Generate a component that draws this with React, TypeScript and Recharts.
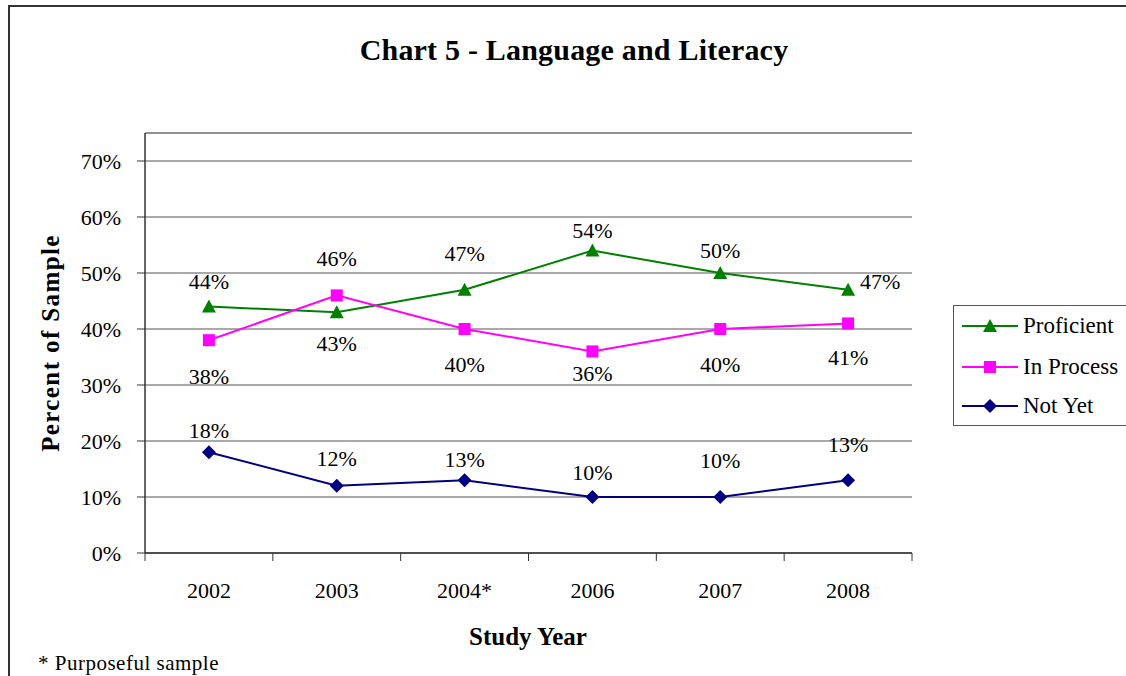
import React from "react";
import {
  LineChart,
  Line,
  XAxis,
  YAxis,
  CartesianGrid,
  ReferenceLine,
  LabelList,
} from "recharts";

const years = ["2002", "2003", "2004*", "2006", "2007", "2008"];
const proficient = [0.44, 0.43, 0.47, 0.54, 0.5, 0.47];
const inProcess = [0.38, 0.46, 0.4, 0.36, 0.4, 0.41];
const notYet = [0.18, 0.12, 0.13, 0.1, 0.1, 0.13];
const yTicks = [0, 0.1, 0.2, 0.3, 0.4, 0.5, 0.6, 0.7];
const yMax = 0.75;

const data = years.map((year, i) => ({
  year,
  proficient: proficient[i],
  inProcess: inProcess[i],
  notYet: notYet[i],
}));

const FONT = '"Liberation Serif", "Times New Roman", serif';
const GREEN = "#008000";
const MAGENTA = "#ff00ff";
const NAVY = "#000080";

const CHART_W = 1126;
const CHART_H = 676;
const PLOT_LEFT = 145;
const PLOT_RIGHT = 912;
const PLOT_TOP = 133;
const PLOT_BOTTOM = 553;
const Y_AXIS_W = 60;
const X_AXIS_H = 50;
const HALF_BAND = (PLOT_RIGHT - PLOT_LEFT) / years.length / 2;

// where Excel put each data label, relative to its point
const labelOffsets: Record<string, [number, number][]> = {
  proficient: [[0, -25], [0, 31], [0, -36], [0, -20], [0, -23], [32, -8]],
  inProcess: [[0, 36], [0, -37], [0, 35], [0, 22], [0, 35], [0, 34]],
  notYet: [[0, -22], [0, -27], [0, -21], [0, -25], [0, -37], [0, -36]],
};

const pct = (v: number) => `${Math.round(v * 100)}%`;

const Triangle = ({ cx, cy, fill }: any) => (
  <polygon
    points={`${cx},${cy - 7} ${cx - 7},${cy + 6} ${cx + 7},${cy + 6}`}
    fill={fill}
  />
);
const Square = ({ cx, cy, fill }: any) => (
  <rect x={cx - 6} y={cy - 6} width={12} height={12} fill={fill} />
);
const Diamond = ({ cx, cy, fill }: any) => (
  <polygon
    points={`${cx},${cy - 7} ${cx + 7},${cy} ${cx},${cy + 7} ${cx - 7},${cy}`}
    fill={fill}
  />
);

const makeLabel = (key: string) => (props: any) => {
  const { x, y, value, index } = props;
  const [dx, dy] = labelOffsets[key][index] || [0, -25];
  return (
    <text
      x={x + dx}
      y={y + dy}
      textAnchor="middle"
      dominantBaseline="central"
      fontFamily={FONT}
      fontSize={22}
      fill="#000"
    >
      {pct(value)}
    </text>
  );
};

const XTick = (props: any) => {
  const { x, y, payload, index } = props;
  const last = index === years.length - 1;
  return (
    <g>
      <line x1={x - HALF_BAND} y1={y} x2={x - HALF_BAND} y2={y + 8} stroke="#333" />
      {last && (
        <line x1={x + HALF_BAND} y1={y} x2={x + HALF_BAND} y2={y + 8} stroke="#333" />
      )}
      <text
        x={x}
        y={y + 37}
        textAnchor="middle"
        dominantBaseline="central"
        fontFamily={FONT}
        fontSize={22}
        fill="#000"
      >
        {payload.value}
      </text>
    </g>
  );
};

const legendItems = [
  { name: "Proficient", color: GREEN, Marker: Triangle },
  { name: "In Process", color: MAGENTA, Marker: Square },
  { name: "Not Yet", color: NAVY, Marker: Diamond },
];

const App: React.FC = () => {
  return (
    <div
      style={{
        position: "fixed",
        left: 0,
        top: 0,
        width: CHART_W,
        height: CHART_H,
        overflow: "hidden",
        background: "#fff",
        fontFamily: FONT,
      }}
    >
      {/* outer frame of the pasted chart */}
      <div
        style={{
          position: "absolute",
          left: 8,
          top: 5,
          width: CHART_W,
          height: CHART_H,
          borderLeft: "2px solid #333",
          borderTop: "2px solid #333",
        }}
      />

      <div
        style={{
          position: "absolute",
          left: 0,
          width: CHART_W,
          top: 31,
          textAlign: "center",
          fontSize: 30,
          fontWeight: "bold",
          letterSpacing: 0.2,
          lineHeight: "38px",
          paddingLeft: 22,
          boxSizing: "border-box",
        }}
      >
        Chart 5 - Language and Literacy
      </div>

      <div style={{ position: "absolute", left: 0, top: 0 }}>
        <LineChart
          width={CHART_W}
          height={CHART_H}
          data={data}
          margin={{
            top: PLOT_TOP,
            right: CHART_W - PLOT_RIGHT,
            left: PLOT_LEFT - Y_AXIS_W,
            bottom: CHART_H - PLOT_BOTTOM - X_AXIS_H,
          }}
        >
          <CartesianGrid vertical={false} stroke="#555" strokeWidth={1.2} />
          <ReferenceLine y={yMax} stroke="#888" strokeWidth={1.5} />
          <XAxis
            dataKey="year"
            height={X_AXIS_H}
            padding={{ left: HALF_BAND, right: HALF_BAND }}
            axisLine={{ stroke: "#333", strokeWidth: 1.5 }}
            tickLine={false}
            tickSize={0}
            tickMargin={0}
            tick={<XTick />}
            interval={0}
          />
          <YAxis
            width={Y_AXIS_W}
            domain={[0, yMax]}
            ticks={yTicks}
            tickFormatter={pct}
            axisLine={{ stroke: "#333", strokeWidth: 1.5 }}
            tickLine={{ stroke: "#333" }}
            tickSize={8}
            tickMargin={16}
            tick={{ fontSize: 22, fill: "#000", fontFamily: FONT }}
          />
          <YAxis
            yAxisId="frame"
            orientation="right"
            width={0}
            domain={[0, yMax]}
            tick={false}
            tickLine={false}
            axisLine={{ stroke: "#888", strokeWidth: 1.5 }}
          />
          <Line
            dataKey="proficient"
            stroke={GREEN}
            strokeWidth={2}
            dot={<Triangle fill={GREEN} />}
            isAnimationActive={false}
          >
            <LabelList dataKey="proficient" content={makeLabel("proficient")} />
          </Line>
          <Line
            dataKey="inProcess"
            stroke={MAGENTA}
            strokeWidth={2}
            dot={<Square fill={MAGENTA} />}
            isAnimationActive={false}
          >
            <LabelList dataKey="inProcess" content={makeLabel("inProcess")} />
          </Line>
          <Line
            dataKey="notYet"
            stroke={NAVY}
            strokeWidth={2}
            dot={<Diamond fill={NAVY} />}
            isAnimationActive={false}
          >
            <LabelList dataKey="notYet" content={makeLabel("notYet")} />
          </Line>
        </LineChart>
      </div>

      {/* y axis title */}
      <div
        style={{
          position: "absolute",
          left: 51,
          top: 343,
          transform: "translate(-50%, -50%) rotate(-90deg)",
          fontSize: 25,
          fontWeight: "bold",
          letterSpacing: 1.4,
          whiteSpace: "nowrap",
        }}
      >
        Percent of Sample
      </div>

      {/* x axis title */}
      <div
        style={{
          position: "absolute",
          left: 528,
          top: 637,
          transform: "translate(-50%, -50%)",
          fontSize: 25,
          fontWeight: "bold",
          whiteSpace: "nowrap",
        }}
      >
        Study Year
      </div>

      <div
        style={{
          position: "absolute",
          left: 38,
          top: 663,
          transform: "translateY(-50%)",
          fontSize: 21,
          letterSpacing: 0.5,
          whiteSpace: "nowrap",
        }}
      >
        * Purposeful sample
      </div>

      {/* legend */}
      <div
        style={{
          position: "absolute",
          left: 953,
          top: 305,
          width: 190,
          height: 119,
          border: "1px solid #555",
        }}
      >
        {legendItems.map((item, i) => (
          <div
            key={item.name}
            style={{
              position: "absolute",
              left: 8,
              top: [20, 61, 100][i] - 12,
              height: 24,
              display: "flex",
              alignItems: "center",
              whiteSpace: "nowrap",
              fontSize: 23,
            }}
          >
            <svg width={56} height={24} style={{ marginRight: 5 }}>
              <line x1={0} y1={12} x2={56} y2={12} stroke={item.color} strokeWidth={2} />
              <item.Marker cx={28} cy={12} fill={item.color} />
            </svg>
            {item.name}
          </div>
        ))}
      </div>
    </div>
  );
};

export default App;
